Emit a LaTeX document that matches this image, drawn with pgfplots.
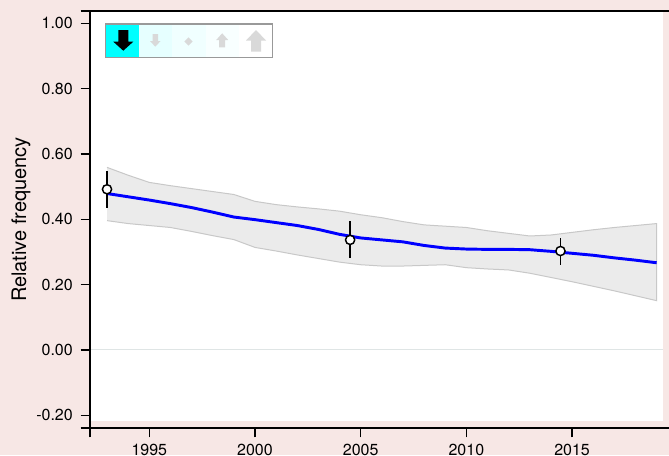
\documentclass[border=0pt]{standalone}
\usepackage{pgfplots}
\pgfplotsset{compat=1.18}
\usepackage{fontspec}
\setmainfont{TeX Gyre Heros}
\definecolor{bgpink}{HTML}{F7E7E5}
\definecolor{bandfill}{HTML}{EBEBEB}
\definecolor{bandedge}{HTML}{C8C8C8}
\definecolor{zeroline}{HTML}{DFE5E5}
\definecolor{iconfg}{HTML}{D9D9D9}
\definecolor{boxedge}{HTML}{999999}
\definecolor{cellA}{HTML}{00FFFF}
\definecolor{cellB}{HTML}{E6FFFF}
\definecolor{cellC}{HTML}{F0FFFF}
\definecolor{cellD}{HTML}{F8FFFF}
\definecolor{cellE}{HTML}{FFFFFF}
\begin{document}
\begin{tikzpicture}
\useasboundingbox (0,0) rectangle (501.75pt,341.25pt);
\fill[bgpink] (0,0) rectangle (501.75pt,341.25pt);
\begin{axis}[
  at={(67.5pt,20.25pt)}, anchor=south west,
  scale only axis, width=436.5pt, height=312.75pt,
  xmin=1992.195, xmax=2019.726, ymin=-0.2388, ymax=1.0377,
  axis on top,
  axis line style={line width=1.1pt, black},
  xtick={1995,2000,2005,2010,2015},
  xticklabels={1995,2000,2005,2010,2015},
  ytick={-0.2,0,0.2,0.4,0.6,0.8,1.0},
  yticklabels={-0.20,0.00,0.20,0.40,0.60,0.80,1.00},
  extra x ticks={1992.195}, extra x tick labels={},
  extra y ticks={-0.2388,1.0377}, extra y tick labels={},
  xtick pos=bottom, ytick pos=left, tick align=outside,
  major tick length=7pt,
  tick style={line width=1.1pt, black},
  tick label style={font=\fontsize{12}{14}\selectfont, inner sep=0pt},
  yticklabel shift=5.75pt, xticklabel shift=4.75pt,
  ylabel={Relative frequency},
  every axis y label/.style={at={(axis description cs:-0.1186,0.5)}, rotate=90, anchor=center, font=\fontsize{15}{18}\selectfont},
]
\fill[white] (axis cs:1992.195,-0.2163) rectangle (axis cs:2019.286,1.0377);
\draw[zeroline, line width=0.75pt] (axis cs:1992.195,0) -- (axis cs:2019.286,0);
% uncertainty band: upper (forward) then lower (backward)
\addplot[fill=bandfill, draw=bandedge, line width=0.75pt] coordinates {
(1993,0.559) (1994,0.535) (1995,0.513) (1996,0.503) (1997,0.494) (1998,0.485)
(1999,0.476) (2000,0.455) (2001,0.445) (2002,0.438) (2003,0.432) (2004,0.425)
(2005,0.414) (2006,0.405) (2007,0.393) (2008,0.383) (2009,0.379) (2010,0.375)
(2011,0.365) (2012,0.357) (2013,0.349) (2014,0.352) (2015,0.360) (2016,0.368)
(2017,0.375) (2018,0.381) (2019,0.387)
(2019,0.151) (2018,0.166) (2017,0.181) (2016,0.195) (2015,0.209) (2014,0.222)
(2013,0.235) (2012,0.245) (2011,0.248) (2010,0.252) (2009,0.261) (2008,0.259)
(2007,0.257) (2006,0.257) (2005,0.261) (2004,0.269) (2003,0.280) (2002,0.291)
(2001,0.303) (2000,0.314) (1999,0.338) (1998,0.350) (1997,0.363) (1996,0.375)
(1995,0.381) (1994,0.387) (1993,0.396)
};
% mean trend
\addplot[color={rgb,255:red,0;green,0;blue,255}, line width=2.2pt] coordinates {
(1993,0.479) (1994,0.469) (1995,0.459) (1996,0.448) (1997,0.436) (1998,0.422)
(1999,0.407) (2000,0.399) (2001,0.390) (2002,0.381) (2003,0.369) (2004,0.354)
(2005,0.343) (2006,0.337) (2007,0.331) (2008,0.320) (2009,0.312) (2010,0.309)
(2011,0.308) (2012,0.308) (2013,0.307) (2014,0.302) (2015,0.296) (2016,0.290)
(2017,0.282) (2018,0.275) (2019,0.267)
};
% observed points with error bars
\addplot[only marks, mark=*, mark size=3.45pt,
  mark options={fill=white, draw=black, line width=1.1pt},
  error bars/.cd, y dir=both, y explicit, error mark=none,
  error bar style={line width=1.1pt, black}] coordinates {
(1993,0.492) += (0,0.057) -= (0,0.058)
(2004.5,0.337) += (0,0.058) -= (0,0.056)
(2014.45,0.303) += (0,0.041) -= (0,0.043)
};
\end{axis}
\begin{scope}[x=0.75pt, y=-0.75pt, shift={(0,341.25pt)}]
\fill[cellA] (105.3,24) rectangle (138.8,57.3);
\fill[cellB] (138.8,24) rectangle (172.3,57.3);
\fill[cellC] (172.3,24) rectangle (205.8,57.3);
\fill[cellD] (205.8,24) rectangle (239.3,57.3);
\fill[cellE] (239.3,24) rectangle (272.7,57.3);
\draw[boxedge, line width=0.8pt] (105.3,24) rectangle (272.7,57.3);
\fill[black] (118.3,30) -- (128.3,30) -- (128.3,41.7) -- (133.3,41.7) -- (123.3,50.7) -- (113.3,41.7) -- (118.3,41.7) -- cycle;
\fill[iconfg] (152.6,34) -- (158,34) -- (158,41) -- (160.6,41) -- (155.3,46.7) -- (150,41) -- (152.6,41) -- cycle;
\fill[iconfg] (188.5,37.3) -- (192.7,41.5) -- (188.5,45.7) -- (184.3,41.5) -- cycle;
\fill[iconfg] (222.2,33.3) -- (228.2,40) -- (225.2,40) -- (225.2,47.3) -- (219.2,47.3) -- (219.2,40) -- (216.2,40) -- cycle;
\fill[iconfg] (256,30) -- (266,40.5) -- (261,40.5) -- (261,51.7) -- (251,51.7) -- (251,40.5) -- (246,40.5) -- cycle;
\end{scope}
\end{tikzpicture}
\end{document}
